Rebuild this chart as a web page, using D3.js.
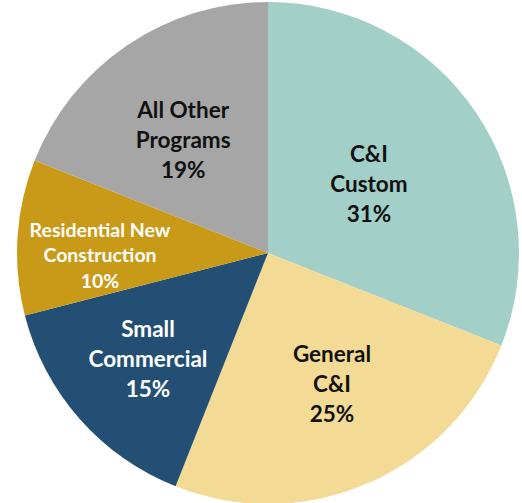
<!DOCTYPE html>
<html>
<head>
<meta charset="utf-8">
<script src="https://cdn.jsdelivr.net/npm/d3@7"></script>
<style>
  body { margin: 0; background: #fff; }
  svg text { font-family: Lato, "Open Sans", sans-serif; font-weight: bold; }
</style>
</head>
<body>
<div id="chart"></div>
<script>
    "use strict";
    // slice data, clockwise from 12 o'clock
    var programs = [["C&I", "Custom"], ["General", "C&I"], ["Small", "Commercial"],
                    ["Residential New", "Construction"], ["All Other", "Programs"]];
    var shares = [31, 25, 15, 10, 19];
    var colors = ["#a2cfc7", "#f3da95", "#244f75", "#c99a18", "#a6a6a6"];
    var textColors = ["#111", "#111", "#fff", "#fff", "#111"];
    // label placement: distance from centre and angle nudge (degrees)
    var labelRadius = [122, 146, 160, 168, 141];
    var labelShift = [0, -2.6, 0, -4.4, -2.8];

    var w = 522, h = 503,
        cx = 268, cy = 253, r = 251;

    var svg = d3.select("#chart").append("svg")
        .attr("width", w)
        .attr("height", h);

    var pie = d3.pie().sort(null).value(function(d) { return d; });
    var arcs = pie(shares);
    var arc = d3.arc().innerRadius(0).outerRadius(r);

    var g = svg.append("g")
        .attr("transform", "translate(" + cx + "," + cy + ")");

    g.selectAll("path")
        .data(arcs)
        .enter()
        .append("path")
        .attr("d", arc)
        .attr("fill", function(d, i) { return colors[i]; });

    var labels = g.selectAll("text.lbl")
        .data(arcs)
        .enter()
        .append("text")
        .attr("class", "lbl")
        .attr("text-anchor", "middle")
        .attr("fill", function(d, i) { return textColors[i]; })
        .style("font-size", function(d, i) { return i === 3 ? "19.5px" : "22.5px"; })
        .attr("transform", function(d, i) {
            var a = (d.startAngle + d.endAngle) / 2 + labelShift[i] * Math.PI / 180;
            return "translate(" + [labelRadius[i] * Math.sin(a), -labelRadius[i] * Math.cos(a)] + ")";
        });

    labels.each(function(d, i) {
        var t = d3.select(this),
            lh = i === 3 ? 25.5 : 30,
            lines = programs[i].concat([shares[i] + "%"]);
        lines.forEach(function(s, k) {
            t.append("tspan")
                .attr("x", 0)
                .attr("y", (k - 1) * lh + (i === 3 ? 7 : 8))
                .text(s);
        });
    });
</script>
</body>
</html>
